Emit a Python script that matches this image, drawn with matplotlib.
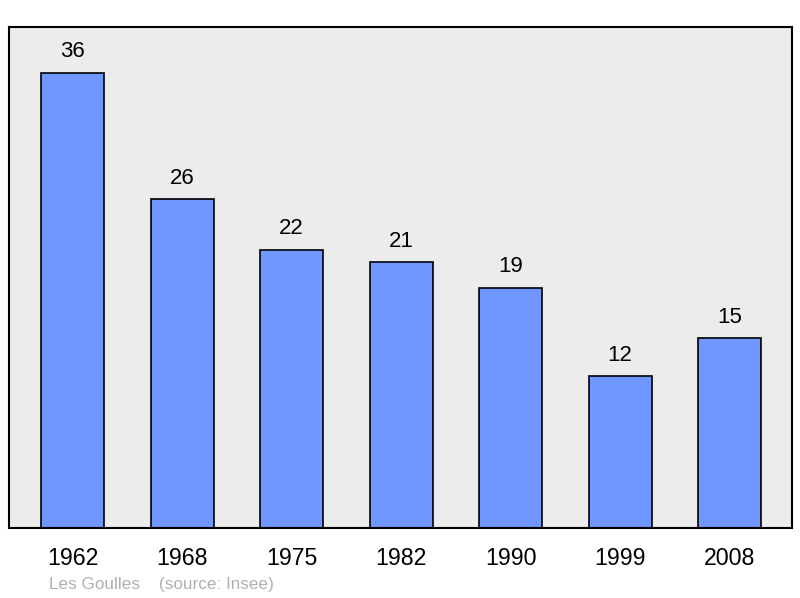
import matplotlib.pyplot as plt

plt.rcParams['font.family'] = ['Liberation Sans', 'DejaVu Sans']

years = ['1962', '1968', '1975', '1982', '1990', '1999', '2008']
population = [36, 26, 22, 21, 19, 12, 15]

fig = plt.figure(figsize=(8, 5.98), dpi=100)
ax = fig.add_axes([9 / 800, 70 / 598, 783 / 800, 501 / 598])
ax.set_facecolor('#ececec')

x = range(len(years))
ax.bar(x, population, width=0.575, color='#7096ff', edgecolor='black',
       linewidth=1.2, zorder=2)

for xi, v in zip(x, population):
    ax.annotate(str(v), (xi, v), xytext=(0, 15), textcoords='offset points',
                ha='center', va='center', fontsize=16)

ax.set_xlim(-0.58, 6.57)
ax.set_ylim(0, 39.6)
ax.set_yticks([])
ax.set_xticks(list(x))
ax.set_xticklabels(years, fontsize=16.7)
ax.tick_params(axis='x', length=0, pad=14)
for s in ax.spines.values():
    s.set_linewidth(1.5)

fig.text(49 / 800, 1 - 584 / 598, 'Les Goulles    (source: Insee)',
         color='#b0b0b0', fontsize=12.3, va='center', ha='left')

fig.savefig('out.png', dpi=100)
